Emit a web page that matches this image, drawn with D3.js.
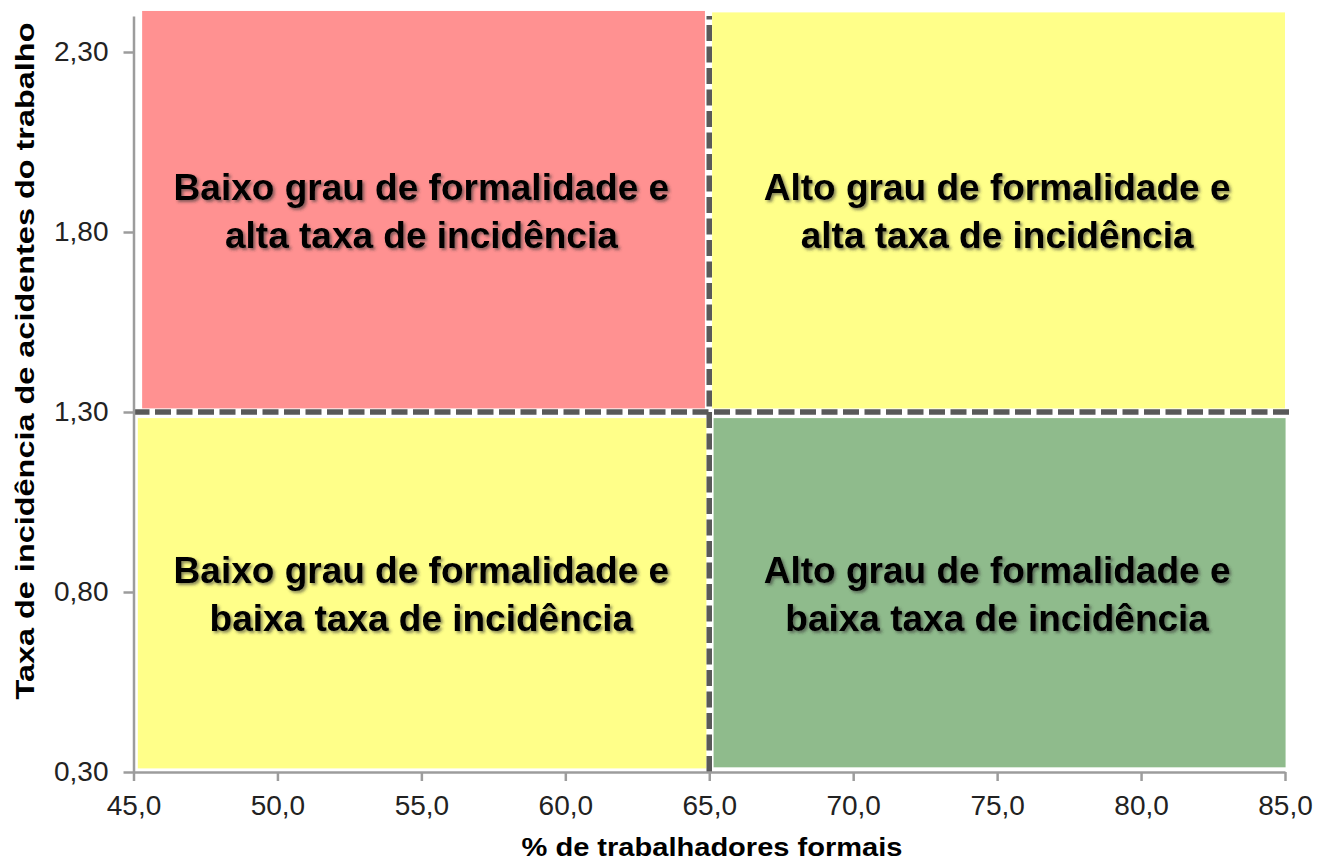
<!DOCTYPE html>
<html>
<head>
<meta charset="utf-8">
<script src="https://cdn.jsdelivr.net/npm/d3@7"></script>
<style>
  body { margin: 0; background: #fff; }
  svg { display: block; }
</style>
</head>
<body>
<div id="chart"></div>
<script>
// quadrant data (x = % formal workers, y = incidence rate)
var quadNames = ["Baixo grau de formalidade e|alta taxa de incidência",
                 "Alto grau de formalidade e|alta taxa de incidência",
                 "Baixo grau de formalidade e|baixa taxa de incidência",
                 "Alto grau de formalidade e|baixa taxa de incidência"];
var quadX0 = [45.3, 65.1, 45.15, 65.15];
var quadX1 = [64.85, 85.0, 64.9, 85.02];
var quadY0 = [1.31, 1.31, 0.31, 0.313];
var quadY1 = [2.414, 2.41, 1.283, 1.283];
var quadColors = ["#ff9191", "#ffff89", "#ffff89", "#8fbb8c"];
var labelX = [55, 75, 55, 75];
var labelY = [1.85, 1.85, 0.785, 0.785];

var xTicks = [45, 50, 55, 60, 65, 70, 75, 80, 85];
var yTicks = [0.30, 0.80, 1.30, 1.80, 2.30];
var xDomain = [45, 85];
var yDomain = [0.30, 2.40];
var cutX = 65, cutY = 1.30;

var W = 1317, H = 862;
var margin = {left: 133.5, right: 32, top: 16, bottom: 90};

var br = d3.formatLocale({decimal: ",", thousands: ".", grouping: [3], currency: ["", ""]});
var fmtX = br.format(".1f"), fmtY = br.format(".2f");

var svg = d3.select('#chart').append('svg')
  .attr('width', W).attr('height', H);

var defs = svg.append('defs');
defs.append('filter').attr('id', 'shadow')
  .attr('x', '-5%').attr('y', '-20%').attr('width', '110%').attr('height', '140%')
  .append('feDropShadow')
  .attr('dx', 2).attr('dy', 2).attr('stdDeviation', 1.4)
  .attr('flood-color', '#333').attr('flood-opacity', 0.6);

var x = d3.scaleLinear().domain(xDomain).range([margin.left, W - margin.right]);
var y = d3.scaleLinear().domain(yDomain).range([H - margin.bottom, margin.top]);

// quadrants
var quads = quadNames.map(function (n, i) {
  return {name: n, x0: quadX0[i], x1: quadX1[i], y0: quadY0[i], y1: quadY1[i],
          color: quadColors[i], lx: labelX[i], ly: labelY[i]};
});

svg.append('g').selectAll('rect').data(quads).enter().append('rect')
  .attr('x', d => x(d.x0))
  .attr('y', d => y(d.y1))
  .attr('width', d => x(d.x1) - x(d.x0))
  .attr('height', d => y(d.y0) - y(d.y1))
  .attr('fill', d => d.color);

// dashed dividers
var divs = svg.append('g');
divs.append('line')
  .attr('x1', x(45)).attr('x2', x(85.2))
  .attr('y1', y(cutY)).attr('y2', y(cutY))
  .attr('stroke', '#595959').attr('stroke-width', 5.5)
  .attr('stroke-dasharray', '16,5.5');
divs.append('line')
  .attr('x1', x(cutX)).attr('x2', x(cutX))
  .attr('y1', y(0.30)).attr('y2', y(2.40))
  .attr('stroke', '#595959').attr('stroke-width', 5.5)
  .attr('stroke-dasharray', '16,5.5');

// quadrant labels
var lab = svg.append('g').selectAll('text').data(quads).enter().append('text')
  .attr('x', d => x(d.lx))
  .attr('y', d => y(d.ly))
  .attr('text-anchor', 'middle')
  .attr('font-family', '"Liberation Sans", Arial, sans-serif')
  .attr('font-weight', 'bold')
  .attr('font-size', '37px')
  .attr('fill', '#000')
  .attr('filter', 'url(#shadow)');
lab.each(function (d) {
  var parts = d.name.split('|');
  var t = d3.select(this);
  var cy = y(d.ly);
  t.append('tspan').attr('x', x(d.lx)).attr('y', cy - 14).text(parts[0]);
  t.append('tspan').attr('x', x(d.lx)).attr('y', cy + 34).text(parts[1]);
});

// axes
var xAxis = d3.axisBottom(x).tickValues(xTicks).tickFormat(fmtX)
  .tickSize(9).tickSizeOuter(0).tickPadding(14);
var yAxis = d3.axisLeft(y).tickValues(yTicks).tickFormat(fmtY)
  .tickSize(10).tickSizeOuter(0).tickPadding(15);

var gx = svg.append('g')
  .attr('transform', 'translate(0,' + y(0.30) + ')')
  .call(xAxis);
var gy = svg.append('g')
  .attr('transform', 'translate(' + x(45) + ',0)')
  .call(yAxis);

[gx, gy].forEach(function (g) {
  g.selectAll('path, line').attr('stroke', '#9c9c9c').attr('stroke-width', 2.5);
  g.selectAll('text')
    .attr('font-family', '"Liberation Sans", Arial, sans-serif')
    .attr('font-size', '28px')
    .attr('fill', '#222');
});

// axis titles
svg.append('text')
  .attr('x', 712).attr('y', 856)
  .attr('text-anchor', 'middle')
  .attr('font-family', '"Liberation Sans", Arial, sans-serif')
  .attr('font-weight', 'bold')
  .attr('font-size', '25px')
  .attr('textLength', 381).attr('lengthAdjust', 'spacingAndGlyphs')
  .text('% de trabalhadores formais');

svg.append('text')
  .attr('transform', 'translate(34,361) rotate(-90)')
  .attr('text-anchor', 'middle')
  .attr('font-family', '"Liberation Sans", Arial, sans-serif')
  .attr('font-weight', 'bold')
  .attr('font-size', '26px')
  .attr('textLength', 677).attr('lengthAdjust', 'spacingAndGlyphs')
  .text('Taxa de incidência de acidentes do trabalho');
</script>
</body>
</html>
